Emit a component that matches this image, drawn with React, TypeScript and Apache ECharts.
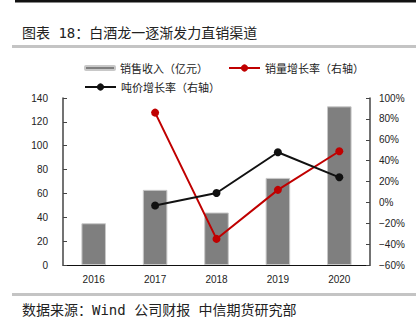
import React, { useEffect, useRef } from "react";
import * as echarts from "echarts";

const years = ["2016", "2017", "2018", "2019", "2020"];
const revenue = [35, 63, 44, 73, 133];
const volumeGrowth = [null, 86, -35, 12, 49];
const priceGrowth = [null, -3, 9, 48, 24];

const titleText = "图表 18：白酒龙一逐渐发力直销渠道";
const sourceText = "数据来源：Wind 公司财报 中信期货研究部";
const sName = "销售收入（亿元）";
const vName = "销量增长率（右轴）";
const pName = "吨价增长率（右轴）";

export default function App() {
  const ref = useRef<HTMLDivElement>(null);
  useEffect(() => {
    const chart = echarts.init(ref.current!, null, { renderer: "svg" });
    const cjk = "'Noto Sans CJK SC', sans-serif";
    const monoCjk = "'DejaVu Sans Mono', 'Noto Sans CJK SC', monospace";
    const lab = { fontFamily: "'Liberation Sans', Arial, sans-serif", fontSize: 10, color: "#222" };
    const legText = { fontFamily: cjk, fontSize: 11, color: "#222", lineHeight: 14 };
    chart.setOption({
      animation: false,
      backgroundColor: "#fff",
      graphic: [
        { type: "rect", shape: { x: 15, y: 0, width: 401, height: 2.5 }, style: { fill: "#111" } },
        { type: "text", x: 22, y: 33, style: { text: titleText, font: `14px ${monoCjk}`, fill: "#222", textVerticalAlign: "middle" } },
        { type: "rect", shape: { x: 12, y: 45, width: 404, height: 3 }, style: { fill: "#c4c4c4" } },
        { type: "rect", shape: { x: 12, y: 293, width: 404, height: 3 }, style: { fill: "#c4c4c4" } },
        { type: "text", x: 22, y: 310, style: { text: sourceText, font: `14px ${monoCjk}`, fill: "#222", textVerticalAlign: "middle" } },
      ],
      legend: [
        {
          data: [sName], left: 84, top: 61, padding: 0, itemWidth: 30, itemHeight: 4,
          textStyle: legText,
        },
        {
          data: [vName], left: 228, top: 61, padding: 0, itemWidth: 31, itemHeight: 9,
          textStyle: legText,
        },
        {
          data: [pName], left: 84, top: 80, padding: 0, itemWidth: 31, itemHeight: 9,
          textStyle: legText,
        },
      ],
      grid: { left: 63, right: 46, top: 98, bottom: 69 },
      xAxis: {
        type: "category",
        data: years,
        axisLine: { lineStyle: { color: "#111", width: 1 } },
        axisTick: { show: false },
        axisLabel: { ...lab, margin: 9 },
      },
      yAxis: [
        {
          type: "value", min: 0, max: 140, interval: 20,
          splitLine: { show: false },
          axisLine: { show: true, lineStyle: { color: "#444", width: 1.5 } },
          axisTick: { show: true, inside: true, length: 4, lineStyle: { color: "#444" } },
          axisLabel: { ...lab, margin: 15 },
        },
        {
          type: "value", min: -60, max: 100, interval: 20,
          splitLine: { show: false },
          axisLine: { show: true, lineStyle: { color: "#444", width: 1.5 } },
          axisTick: { show: true, inside: true, length: 4, lineStyle: { color: "#444" } },
          axisLabel: { ...lab, margin: 9, formatter: (v: number) => (v < 0 ? "\u2212" + -v : v) + "%" },
        },
      ],
      series: [
        {
          name: sName, type: "bar", data: revenue, barWidth: "40%",
          itemStyle: { color: "#7f7f7f", borderColor: "#c8c8c8", borderWidth: 1 },
        },
        {
          name: vName, type: "line", yAxisIndex: 1, data: volumeGrowth,
          symbol: "circle", symbolSize: 8,
          lineStyle: { color: "#c00000", width: 2 }, itemStyle: { color: "#c00000" },
        },
        {
          name: pName, type: "line", yAxisIndex: 1, data: priceGrowth,
          symbol: "circle", symbolSize: 8,
          lineStyle: { color: "#111", width: 2 }, itemStyle: { color: "#111" },
        },
      ],
    });
    return () => chart.dispose();
  }, []);
  return (
    <div
      ref={ref}
      style={{ position: "fixed", left: 0, top: 0, width: 416, height: 334 }}
    />
  );
}
